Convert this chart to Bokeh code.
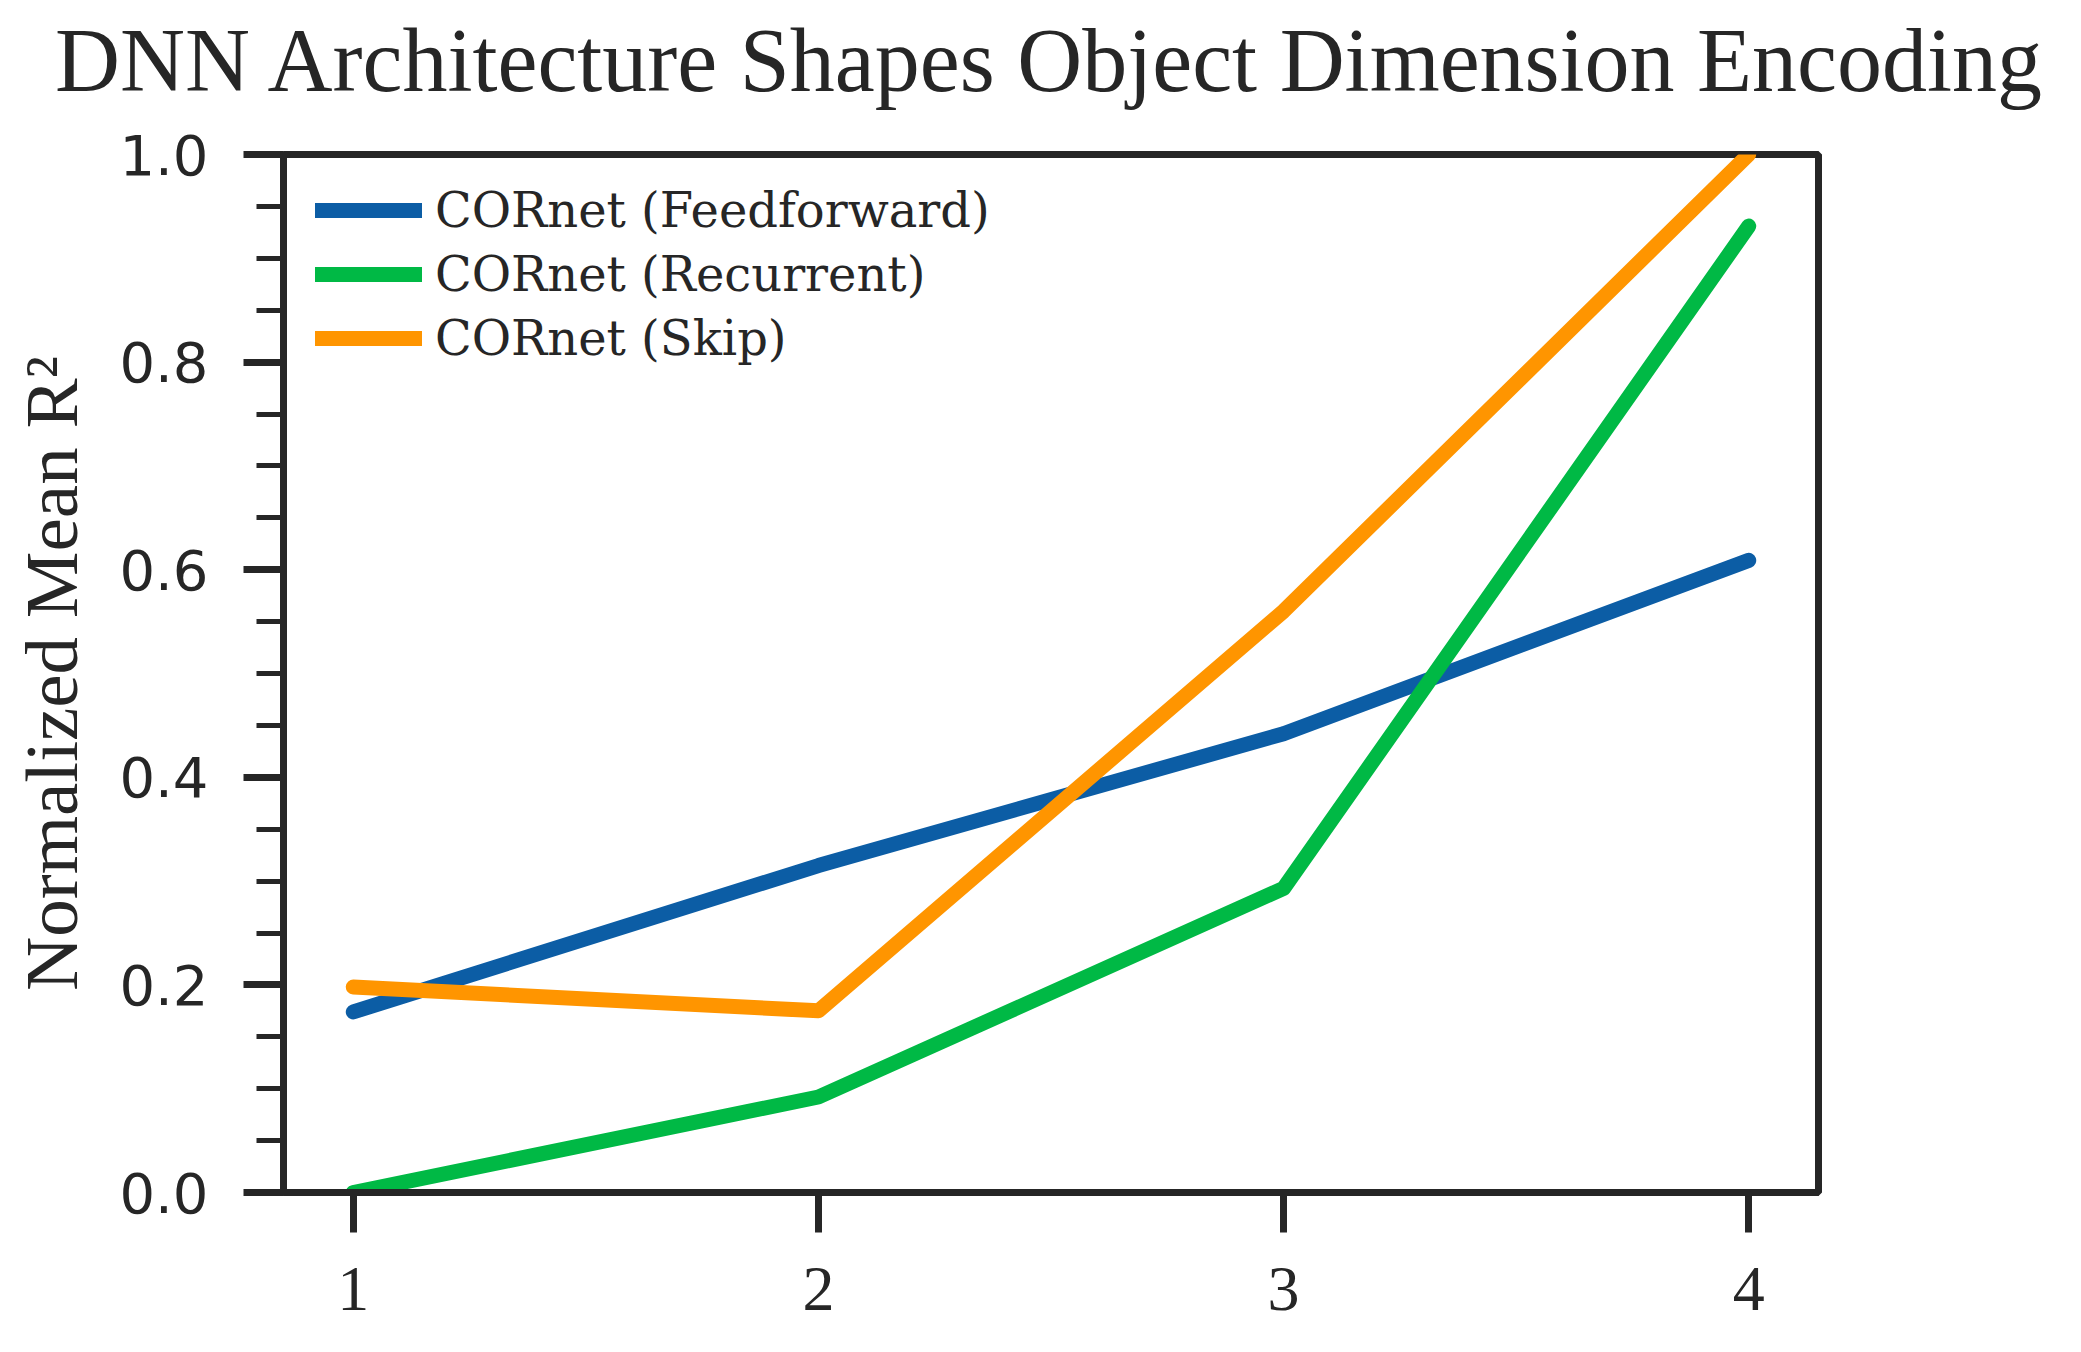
from bokeh.plotting import figure
from bokeh.models import Range1d, FixedTicker, Legend, LegendItem, Title
from bokeh.embed import file_html
from bokeh.resources import INLINE

# ---- data ----
x_vals = [1, 2, 3, 4]
x_labels = ["1", "2", "3", "4"]
feedforward = [0.174, 0.315, 0.442, 0.609]
recurrent = [0.0, 0.092, 0.293, 0.931]
skip = [0.198, 0.175, 0.560, 1.0]
series_names = ["CORnet (Feedforward)", "CORnet (Recurrent)", "CORnet (Skip)"]
series_colors = ["#0C5DA5", "#00B945", "#FF9500"]
y_ticks = [0.0, 0.2, 0.4, 0.6, 0.8, 1.0]
y_tick_labels = ["0.0", "0.2", "0.4", "0.6", "0.8", "1.0"]
y_minor = [0.05, 0.1, 0.15, 0.25, 0.3, 0.35, 0.45, 0.5, 0.55, 0.65, 0.7, 0.75, 0.85, 0.9, 0.95]
title_text = "DNN Architecture Shapes Object Dimension Encoding"

INK = "#262626"

p = figure(width=2081, height=1352, x_range=Range1d(0.85, 4.15), y_range=Range1d(0, 1),
           output_backend="svg", toolbar_location=None,
           min_border_left=283, min_border_right=263, min_border_top=154, min_border_bottom=160)
p.background_fill_color = "white"
p.border_fill_color = "white"
p.outline_line_color = INK
p.outline_line_width = 7
p.xgrid.visible = False
p.ygrid.visible = False

# spacer panel between frame and title, then the title itself
spacer = Title(text=" ", text_font_size="20px", standoff=21, text_color="white")
p.add_layout(spacer, "above")
title = Title(text=title_text, text_font="Liberation Serif", text_font_size="90px",
              text_font_style="normal", text_color=INK, align="center", standoff=0)
p.add_layout(title, "above")

series = [feedforward, recurrent, skip]
items = []
for name, col, ys in zip(series_names, series_colors, series):
    r = p.line(x_vals, ys, line_color=col, line_width=15, line_cap="round", line_join="round")
    items.append(LegendItem(label=name, renderers=[r]))

xa = p.xaxis[0]
xa.ticker = FixedTicker(ticks=x_vals, minor_ticks=[])
xa.major_label_overrides = {v: l for v, l in zip(x_vals, x_labels)}
xa.major_label_text_font = "Liberation Serif"
xa.major_label_text_font_size = "64px"
xa.major_label_text_color = INK
xa.major_tick_out = 40
xa.major_tick_in = 0
xa.major_tick_line_width = 7
xa.major_tick_line_color = INK
xa.axis_line_width = 7
xa.axis_line_color = INK
xa.major_label_standoff = 35

ya = p.yaxis[0]
ya.ticker = FixedTicker(ticks=y_ticks, minor_ticks=y_minor)
ya.major_label_overrides = {v: l for v, l in zip(y_ticks, y_tick_labels)}
ya.major_label_text_font = "DejaVu Sans"
ya.major_label_text_font_size = "56px"
ya.major_label_text_color = INK
ya.major_tick_out = 40
ya.major_tick_in = 0
ya.minor_tick_out = 27
ya.minor_tick_in = 0
ya.major_tick_line_width = 7
ya.minor_tick_line_width = 5
ya.major_tick_line_color = INK
ya.minor_tick_line_color = INK
ya.axis_line_width = 7
ya.axis_line_color = INK
ya.major_label_standoff = 35
ya.axis_label = "Normalized Mean R²"
ya.axis_label_text_font = "Liberation Serif"
ya.axis_label_text_font_size = "75px"
ya.axis_label_text_font_style = "normal"
ya.axis_label_text_color = INK
ya.axis_label_standoff = 23

legend = Legend(items=items, location=(32, 822), orientation="vertical",
                label_text_font="DejaVu Serif", label_text_font_size="48px",
                label_text_color=INK, glyph_width=107, glyph_height=64, label_height=64,
                spacing=0, padding=0, margin=0, label_standoff=13,
                border_line_color=None, background_fill_alpha=0)
p.add_layout(legend)

open("out.html", "w").write(file_html(p, INLINE))
